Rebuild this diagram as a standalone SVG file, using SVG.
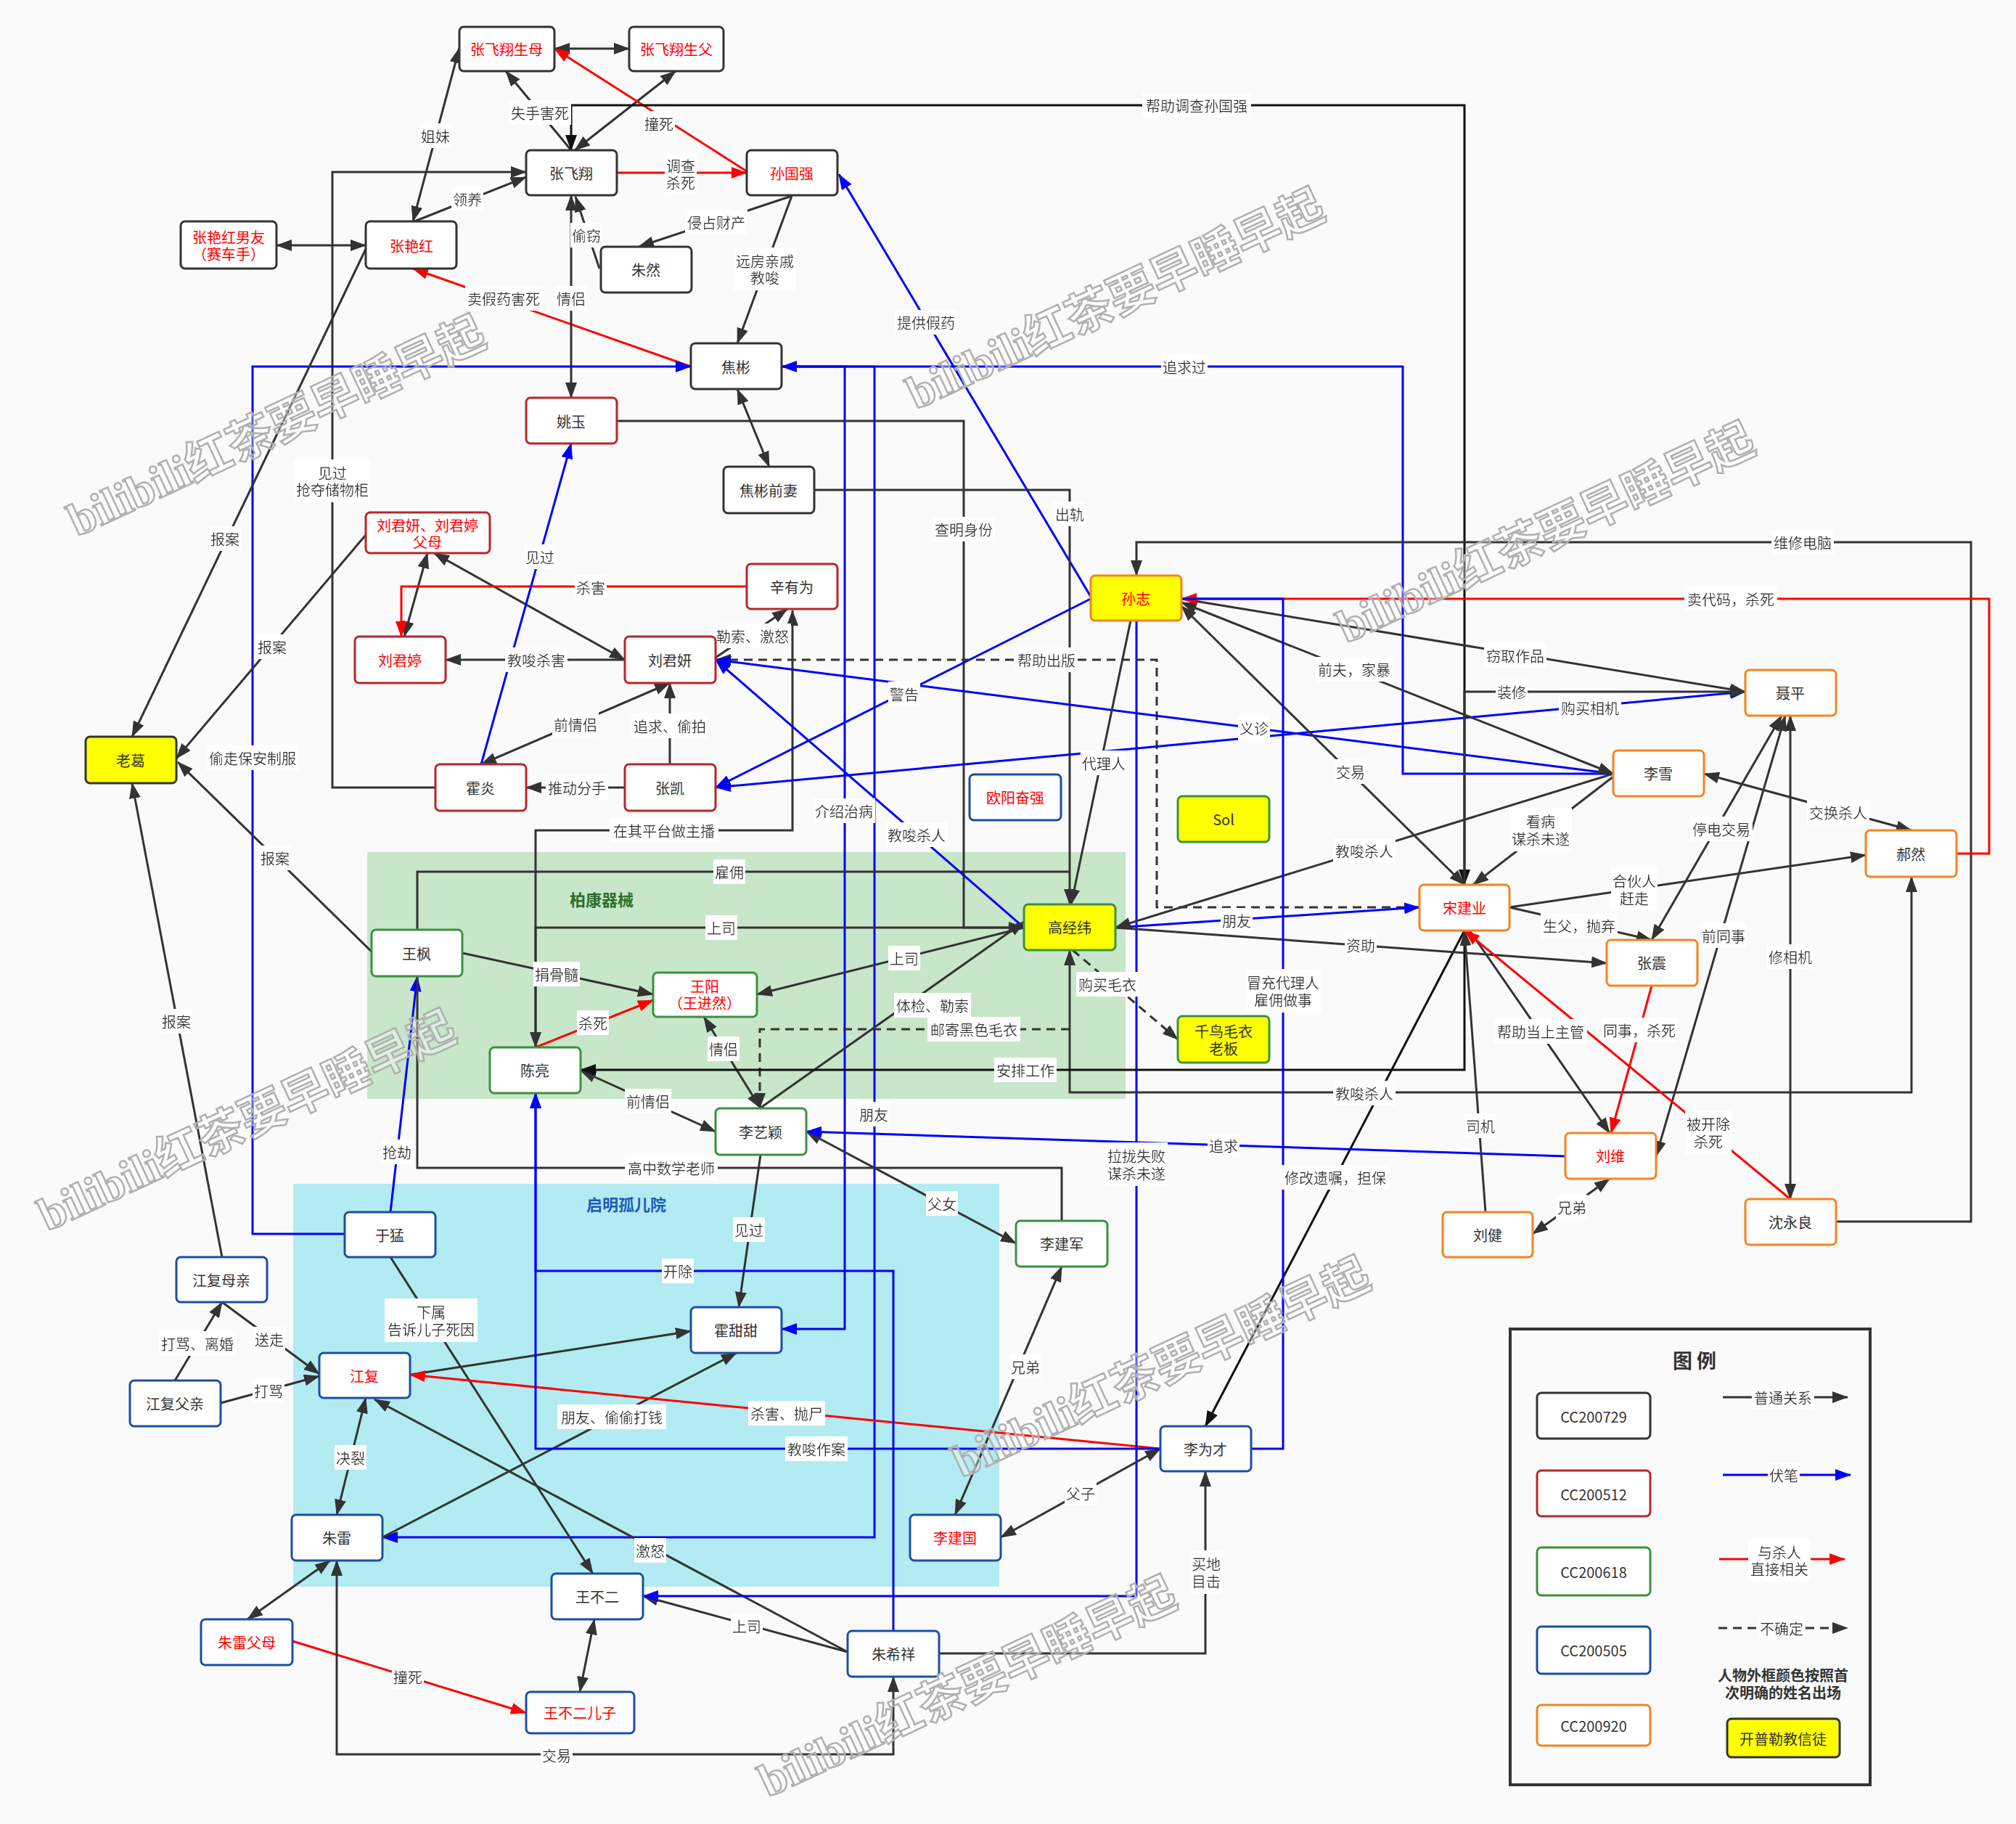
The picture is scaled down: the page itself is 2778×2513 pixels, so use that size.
<svg xmlns="http://www.w3.org/2000/svg" width="2778" height="2513" viewBox="0 0 2778 2513">
<style>
.n rect{fill:#fff;stroke-width:3}
.k{stroke:#333}
.rd{stroke:#b8262b}
.g{stroke:#3a913f}
.bl{stroke:#1a4fa3}
.o{stroke:#f5841f}
rect.y{fill:#ffff00}
text{font-family:"Noto Sans CJK SC","Noto Sans",sans-serif;font-size:20px;text-anchor:middle;dominant-baseline:central}
.t{fill:#333}
.tr{fill:#ff0000}
.l{fill:#333;filter:url(#lb)}
.c path{fill:none;stroke-width:3}
.d{stroke:#333}
.bk{stroke:#111}
.b{stroke:#0000ff}
.r{stroke:#ff0000}
.ds{stroke-dasharray:12 8}
.wm{font-family:"Liberation Serif","Noto Sans CJK SC",serif;font-weight:bold;font-size:64px;fill:#ffffff;fill-opacity:0.35;stroke:#b0b0b0;stroke-width:2.5}
</style>
<defs>
<marker id="ad" viewBox="0 0 22 16" refX="21" refY="8" markerWidth="22" markerHeight="16" markerUnits="userSpaceOnUse" orient="auto-start-reverse"><path d="M0,0 L22,8 L0,16 z" fill="#333"/></marker>
<marker id="ak" viewBox="0 0 22 16" refX="21" refY="8" markerWidth="22" markerHeight="16" markerUnits="userSpaceOnUse" orient="auto-start-reverse"><path d="M0,0 L22,8 L0,16 z" fill="#111"/></marker>
<marker id="ab" viewBox="0 0 22 16" refX="21" refY="8" markerWidth="22" markerHeight="16" markerUnits="userSpaceOnUse" orient="auto-start-reverse"><path d="M0,0 L22,8 L0,16 z" fill="#0000ff"/></marker>
<marker id="ar" viewBox="0 0 22 16" refX="21" refY="8" markerWidth="22" markerHeight="16" markerUnits="userSpaceOnUse" orient="auto-start-reverse"><path d="M0,0 L22,8 L0,16 z" fill="#ff0000"/></marker>
<filter id="lb" x="-0.03" y="-0.06" width="1.06" height="1.12"><feFlood flood-color="#ffffff"/><feComposite in="SourceGraphic"/></filter>
</defs>
<rect x="0" y="0" width="2778" height="2513" fill="#fafafa"/>
<g id="regions">
<rect x="506" y="1174" width="1045" height="340" fill="#c8e6c9"/>
<text x="829" y="1238" style="font-size:22px;font-weight:bold;fill:#2b6e2b">柏康器械</text>
<rect x="404" y="1631" width="973" height="555" fill="#b2ebf2"/>
<text x="863" y="1658" style="font-size:22px;font-weight:bold;fill:#1e5bb8">启明孤儿院</text>
</g>
<g id="connectors" class="c">
<path class="d" d="M764,67 L867,67" marker-start="url(#ad)" marker-end="url(#ad)"/>
<path class="d" d="M569,305 L633,66" marker-start="url(#ad)" marker-end="url(#ad)"/>
<path class="d" d="M787,207 L697,98" marker-end="url(#ad)"/>
<path class="d" d="M792,207 L931,98" marker-start="url(#ad)" marker-end="url(#ad)"/>
<path class="r" d="M1029,236 L764,67" marker-end="url(#ar)"/>
<path class="r" d="M850,238 L1029,238" marker-end="url(#ar)"/>
<path class="bk" d="M2018,1219 L2018,145 L787,145 L787,207" marker-start="url(#ak)" marker-end="url(#ak)"/>
<path class="d" d="M571,305 L725,244" marker-end="url(#ad)"/>
<path class="d" d="M600,1085 L458,1085 L458,237 L725,237" marker-end="url(#ad)"/>
<path class="d" d="M381,338 L504,338" marker-start="url(#ad)" marker-end="url(#ad)"/>
<path class="r" d="M952,505 L569,370" marker-end="url(#ar)"/>
<path class="d" d="M787,269 L787,548" marker-start="url(#ad)" marker-end="url(#ad)"/>
<path class="d" d="M826,370 L793,271" marker-end="url(#ad)"/>
<path class="d" d="M1091,270 L880,340" marker-end="url(#ad)"/>
<path class="d" d="M1091,270 L1016,473" marker-end="url(#ad)"/>
<path class="b" d="M1503,822 L1156,240" marker-end="url(#ab)"/>
<path class="d" d="M1016,536 L1060,643" marker-start="url(#ad)" marker-end="url(#ad)"/>
<path class="b" d="M475,1700 L348,1700 L348,505 L952,505" marker-end="url(#ab)"/>
<path class="b" d="M2223,1066 L1933,1066 L1933,505 L1077,505" marker-end="url(#ab)"/>
<path class="b" d="M1077,505 L1164,505 L1164,1831 L1077,1831" marker-end="url(#ab)"/>
<path class="b" d="M1077,505 L1205,505 L1205,2118 L527,2118" marker-end="url(#ab)"/>
<path class="d" d="M850,580 L1328,580 L1328,1278 L1411,1278" marker-end="url(#ad)"/>
<path class="d" d="M1122,675 L1474,675 L1474,1246" marker-end="url(#ad)"/>
<path class="d" d="M575,1281 L575,1201 L1474,1201"/>
<path class="d" d="M738,1443 L738,1144 L1092,1144 L1092,841" marker-end="url(#ad)"/>
<path class="d" d="M1411,1278 L738,1278 L738,1443" marker-end="url(#ad)"/>
<path class="d" d="M504,343 L182,1015" marker-end="url(#ad)"/>
<path class="d" d="M504,737 L243,1045" marker-end="url(#ad)"/>
<path class="d" d="M512,1311 L245,1050" marker-end="url(#ad)"/>
<path class="d" d="M306,1732 L182,1079" marker-end="url(#ad)"/>
<path class="d" d="M241,1902 L306,1794" marker-end="url(#ad)"/>
<path class="d" d="M306,1794 L440,1893" marker-end="url(#ad)"/>
<path class="d" d="M304,1933 L440,1896" marker-end="url(#ad)"/>
<path class="d" d="M504,1926 L464,2087" marker-start="url(#ad)" marker-end="url(#ad)"/>
<path class="d" d="M455,2150 L341,2231" marker-start="url(#ad)" marker-end="url(#ad)"/>
<path class="r" d="M403,2261 L725,2360" marker-end="url(#ar)"/>
<path class="d" d="M1231,2310 L1231,2417 L464,2417 L464,2150" marker-start="url(#ad)" marker-end="url(#ad)"/>
<path class="d" d="M1168,2276 L516,1928" marker-end="url(#ad)"/>
<path class="d" d="M1168,2276 L886,2199" marker-end="url(#ad)"/>
<path class="d" d="M819,2231 L799,2331" marker-start="url(#ad)" marker-end="url(#ad)"/>
<path class="d" d="M538,1732 L817,2168" marker-end="url(#ad)"/>
<path class="b" d="M538,1670 L575,1345" marker-end="url(#ab)"/>
<path class="d" d="M527,2118 L1015,1864" marker-end="url(#ad)"/>
<path class="d" d="M565,1894 L952,1834" marker-end="url(#ad)"/>
<path class="r" d="M1599,1996 L565,1894" marker-end="url(#ar)"/>
<path class="b" d="M1566,855 L1566,2199 L886,2199" marker-end="url(#ab)"/>
<path class="bk" d="M2018,1282 L1661,1965" marker-end="url(#ak)"/>
<path class="d" d="M1294,2278 L1661,2278 L1661,2027" marker-end="url(#ad)"/>
<path class="d" d="M1599,1996 L1379,2118" marker-start="url(#ad)" marker-end="url(#ad)"/>
<path class="d" d="M1316,2087 L1463,1745" marker-start="url(#ad)" marker-end="url(#ad)"/>
<path class="d" d="M1111,1559 L1400,1713" marker-start="url(#ad)" marker-end="url(#ad)"/>
<path class="d" d="M575,1345 L575,1609 L1463,1609 L1463,1682"/>
<path class="d" d="M1048,1591 L1018,1801" marker-end="url(#ad)"/>
<path class="b" d="M1231,2247 L1231,1751 L738,1751 L738,1506" marker-end="url(#ab)"/>
<path class="b" d="M1599,1996 L738,1996 L738,1506" marker-end="url(#ab)"/>
<path class="d" d="M589,762 L557,877" marker-start="url(#ad)" marker-end="url(#ad)"/>
<path class="d" d="M598,762 L861,909" marker-start="url(#ad)" marker-end="url(#ad)"/>
<path class="r" d="M1029,808 L553,808 L553,877" marker-end="url(#ar)"/>
<path class="d" d="M861,909 L614,909" marker-end="url(#ad)"/>
<path class="d" d="M986,906 L1085,839" marker-end="url(#ad)"/>
<path class="d" d="M923,1053 L923,941" marker-end="url(#ad)"/>
<path class="d" d="M663,1053 L923,941" marker-start="url(#ad)" marker-end="url(#ad)"/>
<path class="d" d="M861,1085 L725,1085" marker-end="url(#ad)"/>
<path class="b" d="M663,1053 L787,611" marker-end="url(#ab)"/>
<path class="b" d="M1503,825 L986,1085" marker-end="url(#ab)"/>
<path class="d ds" d="M1956,1250 L1594,1250 L1594,909 L986,909" marker-end="url(#ad)"/>
<path class="b" d="M2223,1066 L986,909" marker-end="url(#ab)"/>
<path class="b" d="M986,1085 L2405,953" marker-start="url(#ab)" marker-end="url(#ab)"/>
<path class="b" d="M1411,1278 L986,909" marker-end="url(#ab)"/>
<path class="d" d="M1558,855 L1476,1246" marker-end="url(#ad)"/>
<path class="b" d="M1537,1278 L1956,1250" marker-end="url(#ab)"/>
<path class="d" d="M2223,1066 L1537,1278" marker-end="url(#ad)"/>
<path class="d" d="M1537,1278 L2214,1327" marker-end="url(#ad)"/>
<path class="d" d="M2634,1208 L2634,1505 L1474,1505 L1474,1309" marker-start="url(#ad)" marker-end="url(#ad)"/>
<path class="d ds" d="M1478,1309 L1623,1432" marker-end="url(#ad)"/>
<path class="d ds" d="M1474,1418 L1047,1418 L1047,1527" marker-end="url(#ad)"/>
<path class="d" d="M1047,1527 L1411,1270" marker-end="url(#ad)"/>
<path class="d" d="M1411,1278 L1043,1370" marker-end="url(#ad)"/>
<path class="d" d="M637,1313 L900,1370" marker-end="url(#ad)"/>
<path class="r" d="M738,1443 L900,1378" marker-end="url(#ar)"/>
<path class="d" d="M970,1401 L1048,1527" marker-start="url(#ad)" marker-end="url(#ad)"/>
<path class="d" d="M800,1475 L986,1559" marker-start="url(#ad)" marker-end="url(#ad)"/>
<path class="bk" d="M2018,1282 L2018,1474 L800,1474" marker-end="url(#ak)"/>
<path class="b" d="M2157,1593 L1111,1559" marker-end="url(#ab)"/>
<path class="d" d="M2025,1282 L2218,1561" marker-end="url(#ad)"/>
<path class="r" d="M2276,1358 L2220,1561" marker-end="url(#ar)"/>
<path class="d" d="M2047,1670 L2018,1282" marker-end="url(#ad)"/>
<path class="d" d="M2112,1700 L2218,1624" marker-start="url(#ad)" marker-end="url(#ad)"/>
<path class="d" d="M2460,986 L2282,1593" marker-start="url(#ad)" marker-end="url(#ad)"/>
<path class="d" d="M2455,986 L2276,1295" marker-start="url(#ad)" marker-end="url(#ad)"/>
<path class="d" d="M2467,986 L2467,1652" marker-start="url(#ad)" marker-end="url(#ad)"/>
<path class="d" d="M2348,1066 L2634,1144" marker-start="url(#ad)" marker-end="url(#ad)"/>
<path class="d" d="M2080,1250 L2571,1178" marker-end="url(#ad)"/>
<path class="d" d="M2080,1250 L2276,1295" marker-end="url(#ad)"/>
<path class="d" d="M2530,1683 L2716,1683 L2716,747 L1566,747 L1566,793" marker-end="url(#ad)"/>
<path class="d" d="M1628,825 L2405,953" marker-end="url(#ad)"/>
<path class="d" d="M1628,830 L2223,1066" marker-start="url(#ad)" marker-end="url(#ad)"/>
<path class="d" d="M1628,835 L2018,1219" marker-start="url(#ad)" marker-end="url(#ad)"/>
<path class="d" d="M2223,1070 L2030,1219" marker-end="url(#ad)"/>
<path class="d" d="M2018,1219 L2018,953 L2405,953" marker-end="url(#ad)"/>
<path class="r" d="M2696,1176 L2741,1176 L2741,825 L1628,825" marker-end="url(#ar)"/>
<path class="b" d="M1724,1996 L1768,1996 L1768,825 L1628,825"/>
<path class="r" d="M2467,1652 L2018,1282" marker-end="url(#ar)"/>
</g>
<g id="edge-labels">
<text class="l" x="744" y="155">失手害死</text>
<text class="l" x="908" y="170">撞死</text>
<text class="l" x="938" y="228">调查<tspan x="938" dy="23">杀死</tspan></text>
<text class="l" x="1649" y="145">帮助调查孙国强</text>
<text class="l" x="600" y="187">姐妹</text>
<text class="l" x="644" y="274">领养</text>
<text class="l" x="458" y="651">见过<tspan x="458" dy="23">抢夺储物柜</tspan></text>
<text class="l" x="694" y="411">卖假药害死</text>
<text class="l" x="787" y="411">情侣</text>
<text class="l" x="808" y="324">偷窃</text>
<text class="l" x="987" y="306">侵占财产</text>
<text class="l" x="1054" y="359">远房亲戚<tspan x="1054" dy="23">教唆</tspan></text>
<text class="l" x="1276" y="444">提供假药</text>
<text class="l" x="1632" y="505">追求过</text>
<text class="l" x="1163" y="1117">介绍治病</text>
<text class="l" x="1204" y="1535">朋友</text>
<text class="l" x="1328" y="729">查明身份</text>
<text class="l" x="1474" y="708">出轨</text>
<text class="l" x="1005" y="1201">雇佣</text>
<text class="l" x="915" y="1144">在其平台做主播</text>
<text class="l" x="994" y="1278">上司</text>
<text class="l" x="310" y="742">报案</text>
<text class="l" x="375" y="891">报案</text>
<text class="l" x="348" y="1044">偷走保安制服</text>
<text class="l" x="379" y="1182">报案</text>
<text class="l" x="243" y="1407">报案</text>
<text class="l" x="272" y="1851">打骂、离婚</text>
<text class="l" x="371" y="1845">送走</text>
<text class="l" x="370" y="1916">打骂</text>
<text class="l" x="483" y="2008">决裂</text>
<text class="l" x="562" y="2310">撞死</text>
<text class="l" x="767" y="2418">交易</text>
<text class="l" x="896" y="2136">激怒</text>
<text class="l" x="1029" y="2240">上司</text>
<text class="l" x="594" y="1807">下属<tspan x="594" dy="24">告诉儿子死因</tspan></text>
<text class="l" x="547" y="1587">抢劫</text>
<text class="l" x="843" y="1952">朋友、偷偷打钱</text>
<text class="l" x="1084" y="1947">杀害、抛尸</text>
<text class="l" x="1566" y="1592">拉拢失败<tspan x="1566" dy="24">谋杀未遂</tspan></text>
<text class="l" x="1768" y="1353">冒充代理人<tspan x="1768" dy="24">雇佣做事</tspan></text>
<text class="l" x="1840" y="1622">修改遗嘱，担保</text>
<text class="l" x="1662" y="2154">买地<tspan x="1662" dy="24">目击</tspan></text>
<text class="l" x="1489" y="2057">父子</text>
<text class="l" x="1413" y="1883">兄弟</text>
<text class="l" x="1298" y="1658">父女</text>
<text class="l" x="925" y="1609">高中数学老师</text>
<text class="l" x="1032" y="1694">见过</text>
<text class="l" x="934" y="1751">开除</text>
<text class="l" x="1125" y="1996">教唆作案</text>
<text class="l" x="814" y="809">杀害</text>
<text class="l" x="739" y="909">教唆杀害</text>
<text class="l" x="1037" y="876">勒索、激怒</text>
<text class="l" x="923" y="1000">追求、偷拍</text>
<text class="l" x="793" y="998">前情侣</text>
<text class="l" x="795" y="1085">推动分手</text>
<text class="l" x="744" y="767">见过</text>
<text class="l" x="1246" y="956">警告</text>
<text class="l" x="1442" y="909">帮助出版</text>
<text class="l" x="1728" y="1003">义诊</text>
<text class="l" x="2191" y="975">购买相机</text>
<text class="l" x="1263" y="1150">教唆杀人</text>
<text class="l" x="1521" y="1051">代理人</text>
<text class="l" x="1704" y="1268">朋友</text>
<text class="l" x="1880" y="1172">教唆杀人</text>
<text class="l" x="1875" y="1302">资助</text>
<text class="l" x="1880" y="1506">教唆杀人</text>
<text class="l" x="1526" y="1356">购买毛衣</text>
<text class="l" x="1342" y="1418">邮寄黑色毛衣</text>
<text class="l" x="1285" y="1385">体检、勒索</text>
<text class="l" x="1246" y="1320">上司</text>
<text class="l" x="767" y="1342">捐骨髓</text>
<text class="l" x="817" y="1409">杀死</text>
<text class="l" x="997" y="1445">情侣</text>
<text class="l" x="893" y="1517">前情侣</text>
<text class="l" x="1413" y="1474">安排工作</text>
<text class="l" x="1686" y="1578">追求</text>
<text class="l" x="2123" y="1421">帮助当上主管</text>
<text class="l" x="2259" y="1419">同事，杀死</text>
<text class="l" x="2354" y="1548">被开除<tspan x="2354" dy="24">杀死</tspan></text>
<text class="l" x="2040" y="1551">司机</text>
<text class="l" x="2166" y="1663">兄弟</text>
<text class="l" x="2375" y="1289">前同事</text>
<text class="l" x="2372" y="1142">停电交易</text>
<text class="l" x="2467" y="1318">修相机</text>
<text class="l" x="2533" y="1119">交换杀人</text>
<text class="l" x="2252" y="1213">合伙人<tspan x="2252" dy="24">赶走</tspan></text>
<text class="l" x="2176" y="1275">生父，抛弃</text>
<text class="l" x="2385" y="825">卖代码，杀死</text>
<text class="l" x="2484" y="747">维修电脑</text>
<text class="l" x="2088" y="903">窃取作品</text>
<text class="l" x="1866" y="922">前夫，家暴</text>
<text class="l" x="1861" y="1063">交易</text>
<text class="l" x="2123" y="1131">看病<tspan x="2123" dy="24">谋杀未遂</tspan></text>
<text class="l" x="2083" y="953">装修</text>
</g>
<g class="n" id="n-zfxsm"><rect class="k" x="633" y="37" width="131" height="61" rx="6"/><text class="tr" x="698" y="67">张飞翔生母</text></g>
<g class="n" id="n-zfxsf"><rect class="k" x="867" y="37" width="130" height="61" rx="6"/><text class="tr" x="932" y="67">张飞翔生父</text></g>
<g class="n" id="n-zfx"><rect class="k" x="725" y="207" width="125" height="62" rx="6"/><text class="t" x="787" y="238">张飞翔</text></g>
<g class="n" id="n-sgq"><rect class="k" x="1029" y="207" width="125" height="62" rx="6"/><text class="tr" x="1091" y="238">孙国强</text></g>
<g class="n" id="n-zyhbf"><rect class="k" x="249" y="305" width="132" height="65" rx="6"/><text class="tr" x="315" y="326">张艳红男友<tspan x="315" dy="23">（赛车手）</tspan></text></g>
<g class="n" id="n-zyh"><rect class="k" x="504" y="305" width="125" height="65" rx="6"/><text class="tr" x="567" y="338">张艳红</text></g>
<g class="n" id="n-zr"><rect class="k" x="828" y="340" width="125" height="63" rx="6"/><text class="t" x="890" y="371">朱然</text></g>
<g class="n" id="n-jb"><rect class="k" x="952" y="473" width="125" height="63" rx="6"/><text class="t" x="1014" y="505">焦彬</text></g>
<g class="n" id="n-yy"><rect class="rd" x="725" y="548" width="125" height="63" rx="6"/><text class="t" x="787" y="580">姚玉</text></g>
<g class="n" id="n-jbqq"><rect class="k" x="997" y="643" width="125" height="64" rx="6"/><text class="t" x="1059" y="675">焦彬前妻</text></g>
<g class="n" id="n-ljfm"><rect class="rd" x="504" y="706" width="171" height="56" rx="6"/><text class="tr" x="589" y="723">刘君妍、刘君婷<tspan x="589" dy="23">父母</tspan></text></g>
<g class="n" id="n-xyw"><rect class="rd" x="1029" y="777" width="125" height="62" rx="6"/><text class="t" x="1091" y="808">辛有为</text></g>
<g class="n" id="n-ljt"><rect class="rd" x="489" y="877" width="125" height="64" rx="6"/><text class="tr" x="551" y="909">刘君婷</text></g>
<g class="n" id="n-ljy"><rect class="rd" x="861" y="877" width="125" height="64" rx="6"/><text class="t" x="923" y="909">刘君妍</text></g>
<g class="n" id="n-sz"><rect class="o y" x="1503" y="793" width="125" height="62" rx="6"/><text class="tr" x="1565" y="824">孙志</text></g>
<g class="n" id="n-np"><rect class="o" x="2405" y="923" width="125" height="63" rx="6"/><text class="t" x="2467" y="954">聂平</text></g>
<g class="n" id="n-lg"><rect class="k y" x="118" y="1015" width="125" height="64" rx="6"/><text class="t" x="180" y="1047">老葛</text></g>
<g class="n" id="n-hy"><rect class="rd" x="600" y="1053" width="125" height="64" rx="6"/><text class="t" x="662" y="1085">霍炎</text></g>
<g class="n" id="n-zk"><rect class="rd" x="861" y="1053" width="125" height="64" rx="6"/><text class="t" x="923" y="1085">张凯</text></g>
<g class="n" id="n-lx"><rect class="o" x="2223" y="1034" width="125" height="63" rx="6"/><text class="t" x="2285" y="1065">李雪</text></g>
<g class="n" id="n-oyfq"><rect class="bl" x="1336" y="1067" width="126" height="63" rx="6"/><text class="tr" x="1399" y="1098">欧阳奋强</text></g>
<g class="n" id="n-sol"><rect class="g y" x="1623" y="1097" width="126" height="63" rx="6"/><text class="t" x="1686" y="1128">Sol</text></g>
<g class="n" id="n-hr"><rect class="o" x="2571" y="1144" width="125" height="64" rx="6"/><text class="t" x="2633" y="1176">郝然</text></g>
<g class="n" id="n-sjy"><rect class="o" x="1956" y="1219" width="124" height="63" rx="6"/><text class="tr" x="2018" y="1250">宋建业</text></g>
<g class="n" id="n-gjw"><rect class="g y" x="1411" y="1246" width="126" height="63" rx="6"/><text class="t" x="1474" y="1277">高经纬</text></g>
<g class="n" id="n-wf"><rect class="g" x="512" y="1281" width="125" height="64" rx="6"/><text class="t" x="574" y="1313">王枫</text></g>
<g class="n" id="n-zz"><rect class="o" x="2214" y="1295" width="125" height="63" rx="6"/><text class="t" x="2276" y="1326">张震</text></g>
<g class="n" id="n-wy"><rect class="g" x="900" y="1340" width="143" height="61" rx="6"/><text class="tr" x="971" y="1358">王阳<tspan x="971" dy="23">（王进然）</tspan></text></g>
<g class="n" id="n-qn"><rect class="g y" x="1623" y="1400" width="126" height="64" rx="6"/><text class="t" x="1686" y="1420">千鸟毛衣<tspan x="1686" dy="24">老板</tspan></text></g>
<g class="n" id="n-cl"><rect class="g" x="675" y="1443" width="125" height="63" rx="6"/><text class="t" x="737" y="1474">陈亮</text></g>
<g class="n" id="n-lyy"><rect class="g" x="986" y="1527" width="125" height="64" rx="6"/><text class="t" x="1048" y="1559">李艺颖</text></g>
<g class="n" id="n-lw"><rect class="o" x="2157" y="1561" width="125" height="63" rx="6"/><text class="tr" x="2219" y="1592">刘维</text></g>
<g class="n" id="n-syl"><rect class="o" x="2405" y="1652" width="125" height="63" rx="6"/><text class="t" x="2467" y="1683">沈永良</text></g>
<g class="n" id="n-ym"><rect class="bl" x="475" y="1670" width="125" height="62" rx="6"/><text class="t" x="537" y="1701">于猛</text></g>
<g class="n" id="n-lj"><rect class="o" x="1988" y="1670" width="124" height="62" rx="6"/><text class="t" x="2050" y="1701">刘健</text></g>
<g class="n" id="n-ljj"><rect class="g" x="1400" y="1682" width="126" height="63" rx="6"/><text class="t" x="1463" y="1713">李建军</text></g>
<g class="n" id="n-jfmq"><rect class="bl" x="243" y="1732" width="125" height="62" rx="6"/><text class="t" x="305" y="1763">江复母亲</text></g>
<g class="n" id="n-htt"><rect class="bl" x="952" y="1801" width="125" height="63" rx="6"/><text class="t" x="1014" y="1832">霍甜甜</text></g>
<g class="n" id="n-jf"><rect class="bl" x="440" y="1864" width="125" height="62" rx="6"/><text class="tr" x="502" y="1895">江复</text></g>
<g class="n" id="n-jffq"><rect class="bl" x="179" y="1902" width="125" height="63" rx="6"/><text class="t" x="241" y="1933">江复父亲</text></g>
<g class="n" id="n-lwc"><rect class="bl" x="1599" y="1965" width="125" height="62" rx="6"/><text class="t" x="1661" y="1996">李为才</text></g>
<g class="n" id="n-zl"><rect class="bl" x="402" y="2087" width="125" height="63" rx="6"/><text class="t" x="464" y="2118">朱雷</text></g>
<g class="n" id="n-ljg"><rect class="bl" x="1254" y="2087" width="125" height="63" rx="6"/><text class="tr" x="1316" y="2118">李建国</text></g>
<g class="n" id="n-wbe"><rect class="bl" x="760" y="2168" width="126" height="63" rx="6"/><text class="t" x="823" y="2199">王不二</text></g>
<g class="n" id="n-zlfm"><rect class="bl" x="277" y="2231" width="126" height="63" rx="6"/><text class="tr" x="340" y="2262">朱雷父母</text></g>
<g class="n" id="n-zxx"><rect class="bl" x="1168" y="2247" width="126" height="63" rx="6"/><text class="t" x="1231" y="2278">朱希祥</text></g>
<g class="n" id="n-wbeez"><rect class="bl" x="725" y="2331" width="149" height="57" rx="6"/><text class="tr" x="799" y="2359">王不二儿子</text></g>
<g id="legend">
<rect x="2081" y="1831" width="496" height="628" fill="none" stroke="#333" stroke-width="4"/>
<text x="2335" y="1873" style="font-size:27px;font-weight:bold;fill:#333">图 例</text>
<g class="n"><rect class="k" x="2118" y="1919" width="156" height="63" rx="6"/><text class="t" x="2196" y="1951">CC200729</text></g>
<g class="n"><rect class="rd" x="2118" y="2026" width="156" height="63" rx="6"/><text class="t" x="2196" y="2058">CC200512</text></g>
<g class="n"><rect class="g" x="2118" y="2132" width="156" height="66" rx="6"/><text class="t" x="2196" y="2165">CC200618</text></g>
<g class="n"><rect class="bl" x="2118" y="2241" width="156" height="65" rx="6"/><text class="t" x="2196" y="2273">CC200505</text></g>
<g class="n"><rect class="o" x="2118" y="2349" width="156" height="56" rx="6"/><text class="t" x="2196" y="2377">CC200920</text></g>
<g class="c">
<path class="d" d="M2374,1925 L2546,1925" marker-end="url(#ad)"/>
<path class="b" d="M2374,2032 L2550,2032" marker-end="url(#ab)"/>
<path class="r" d="M2369,2148 L2542,2148" marker-end="url(#ar)"/>
<path class="d ds" d="M2368,2243 L2546,2243" marker-end="url(#ad)"/>
</g>
<text class="l" x="2457" y="1925">普通关系</text>
<text class="l" x="2458" y="2032">伏笔</text>
<text class="l" x="2452" y="2138">与杀人<tspan x="2452" dy="23">直接相关</tspan></text>
<text class="l" x="2455" y="2243">不确定</text>
<text x="2457" y="2307" style="font-weight:bold;fill:#333">人物外框颜色按照首<tspan x="2457" dy="24">次明确的姓名出场</tspan></text>
<g class="n"><rect class="k y" x="2380" y="2368" width="155" height="53" rx="6"/><text class="t" x="2457" y="2395">开普勒教信徒</text></g>
</g>
<g id="watermark">
<text class="wm" transform="translate(381,588) rotate(-25)">bilibili红茶要早睡早起</text>
<text class="wm" transform="translate(1537,413) rotate(-25)">bilibili红茶要早睡早起</text>
<text class="wm" transform="translate(2130,735) rotate(-25)">bilibili红茶要早睡早起</text>
<text class="wm" transform="translate(340,1545) rotate(-25)">bilibili红茶要早睡早起</text>
<text class="wm" transform="translate(1600,1885) rotate(-25)">bilibili红茶要早睡早起</text>
<text class="wm" transform="translate(1333,2325) rotate(-25)">bilibili红茶要早睡早起</text>
</g>
</svg>
